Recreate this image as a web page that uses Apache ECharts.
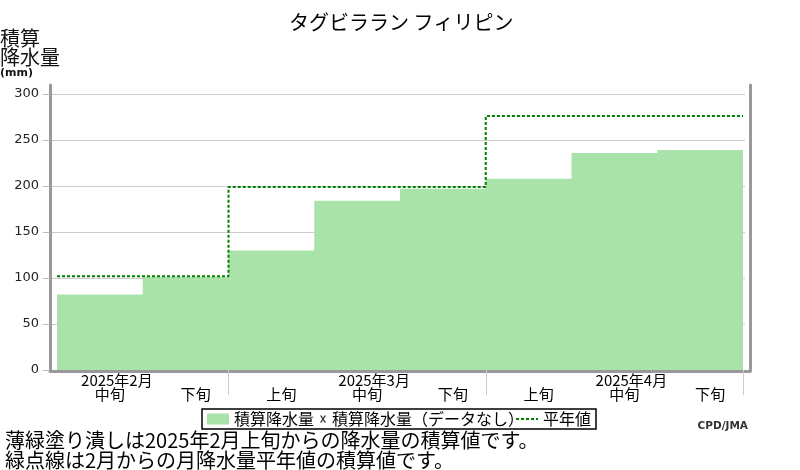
<!DOCTYPE html>
<html><head><meta charset="utf-8">
<script src="https://cdn.jsdelivr.net/npm/echarts@6/dist/echarts.min.js"></script>
<style>html,body{margin:0;padding:0;background:#fff}#c{width:800px;height:470px}</style>
</head><body><div id="c"></div>
<script>
// ---- data ----
const dekads = ['中旬','下旬','上旬','中旬','下旬','上旬','中旬','下旬'];
const barMonths = ['2025年2月','2025年2月','2025年3月','2025年3月','2025年3月','2025年4月','2025年4月','2025年4月'];
const cumulative = [82, 101, 130, 184, 197, 208, 236, 239];
const normalMonths = ['2025年2月','2025年3月','2025年4月'];
const normals = [102, 199, 276];
const yTicks = [0, 50, 100, 150, 200, 250, 300];
const titleText = 'タグビララン フィリピン';
const noteLines = ['薄緑塗り潰しは2025年2月上旬からの降水量の積算値です。', '緑点線は2月からの月降水量平年値の積算値です。'];

// ---- derived ----
const JP = 'Noto Sans CJK JP';
const categories = dekads.map((d, i) => barMonths[i] + d);
// each dekad occupies [i, i+1] on the hidden value axis; step 'end' holds the value across the dekad
const cumPoints = cumulative.map((v, i) => [i, v]);
cumPoints.push([dekads.length, cumulative[cumulative.length - 1]]);
const normalPoints = normalMonths.map((m, k) => [barMonths.indexOf(m), normals[k]]);
normalPoints.push([dekads.length, normals[normals.length - 1]]);
const monthStart = i => i > 0 && barMonths[i] !== barMonths[i - 1];
const barColor = '#aae3aa';
const frameAxis = {axisLine:{show:true,onZero:false,lineStyle:{color:'#999',width:3}},axisTick:{show:false},axisLabel:{show:false},splitLine:{show:false}};

const chart = echarts.init(document.getElementById('c'));
chart.setOption({
  animation:false,
  backgroundColor:'#fff',
  title:[
    {text:titleText,left:289,top:12,padding:0,textStyle:{fontSize:20,fontWeight:'normal',color:'#000',fontFamily:JP}},
    {text:'{a|積算}\n{a|降水量}\n{b|(mm)}',left:0,top:29,padding:0,textStyle:{fontWeight:'normal',rich:{
      a:{fontSize:20,lineHeight:19,fontWeight:'normal',color:'#111',fontFamily:JP},
      b:{fontSize:11,lineHeight:12,fontWeight:'bold',color:'#111',fontFamily:'DejaVu Sans'}}}},
    {text:'CPD/JMA',right:52,top:421,padding:0,textStyle:{fontSize:10.5,fontWeight:'bold',color:'#333',fontFamily:'DejaVu Sans'}},
    {text:noteLines.join('\n'),left:5,top:430,padding:0,textStyle:{fontSize:20,lineHeight:20,fontWeight:'normal',color:'#000',fontFamily:JP}}
  ],
  legend:{
    left:202, top:409, padding:[2,5], borderColor:'#000', borderWidth:1.5,
    itemWidth:22, itemHeight:11, itemGap:-9, selectedMode:false,
    textStyle:{fontSize:16,lineHeight:16,color:'#000',fontFamily:JP},
    data:[
      {name:'積算降水量',icon:'rect',itemStyle:{color:barColor}},
      {name:'積算降水量（データなし）',icon:'path://M0,0L0.01,0L0,0.01ZM22,11L21.99,11L22,10.99ZM15,2L16.6,2L18,4.6L19.4,2L21,2L18.8,5.5L21,9L19.4,9L18,6.4L16.6,9L15,9L17.2,5.5Z',itemStyle:{color:'#000'}},
      {name:'平年値',itemStyle:{color:'rgba(0,0,0,0)',borderWidth:0,opacity:0}}
    ]
  },
  grid:[
    {left:50,right:50,top:85,bottom:99},
    {left:50,right:55,top:94,bottom:100},
    {left:57,right:57,top:94,bottom:100}
  ],
  xAxis:[
    Object.assign({gridIndex:0,type:'value',min:0,max:1}, frameAxis),
    {gridIndex:1,type:'value',min:0,max:1,show:false},
    {gridIndex:2,type:'category',data:categories,boundaryGap:true,
      axisLine:{show:false},
      axisTick:{show:true,length:25,interval:(i)=>monthStart(i),lineStyle:{color:'#ccc'}},
      axisLabel:{interval:0,margin:4,padding:[0,0,0,20],
        formatter:(v,i)=> dekads[i]==='中旬' ? '{m|'+barMonths[i]+'}\n{d|'+dekads[i]+'}' : '{m| }\n{d|'+dekads[i]+'}',
        rich:{m:{fontSize:15,lineHeight:13,color:'#000',fontFamily:JP,padding:[0,0,0,14]},
              d:{fontSize:15,lineHeight:14,color:'#000',fontFamily:JP}}}},
    {gridIndex:2,type:'value',min:0,max:dekads.length,show:false}
  ],
  yAxis:[
    Object.assign({gridIndex:0,type:'value',min:0,max:1,position:'left'}, frameAxis),
    Object.assign({gridIndex:0,type:'value',min:0,max:1,position:'right'}, frameAxis),
    {gridIndex:1,type:'value',min:yTicks[0],max:yTicks[yTicks.length-1],interval:yTicks[1]-yTicks[0],
      axisLine:{show:false},axisTick:{show:true,length:7,lineStyle:{color:'#bbb'}},
      axisLabel:{margin:11,fontSize:13,color:'#222',fontFamily:'DejaVu Sans'},
      splitLine:{show:true,lineStyle:{color:'#ccc',width:1}}},
    {gridIndex:2,type:'value',min:yTicks[0],max:yTicks[yTicks.length-1],show:false}
  ],
  series:[
    {name:'積算降水量',type:'line',xAxisIndex:3,yAxisIndex:3,data:cumPoints,step:'end',
      symbol:'none',showSymbol:false,z:2,
      lineStyle:{color:barColor,width:0},itemStyle:{color:barColor},
      areaStyle:{color:barColor,opacity:1}},
    {name:'積算降水量（データなし）',type:'scatter',xAxisIndex:3,yAxisIndex:3,data:[],itemStyle:{color:'#000'}},
    {name:'平年値',type:'line',xAxisIndex:3,yAxisIndex:3,data:normalPoints,step:'end',
      symbol:'none',showSymbol:false,z:5,
      lineStyle:{color:'#008000',width:2,type:[3,2]},itemStyle:{color:'#008000'}}
  ]
});
</script></body></html>
